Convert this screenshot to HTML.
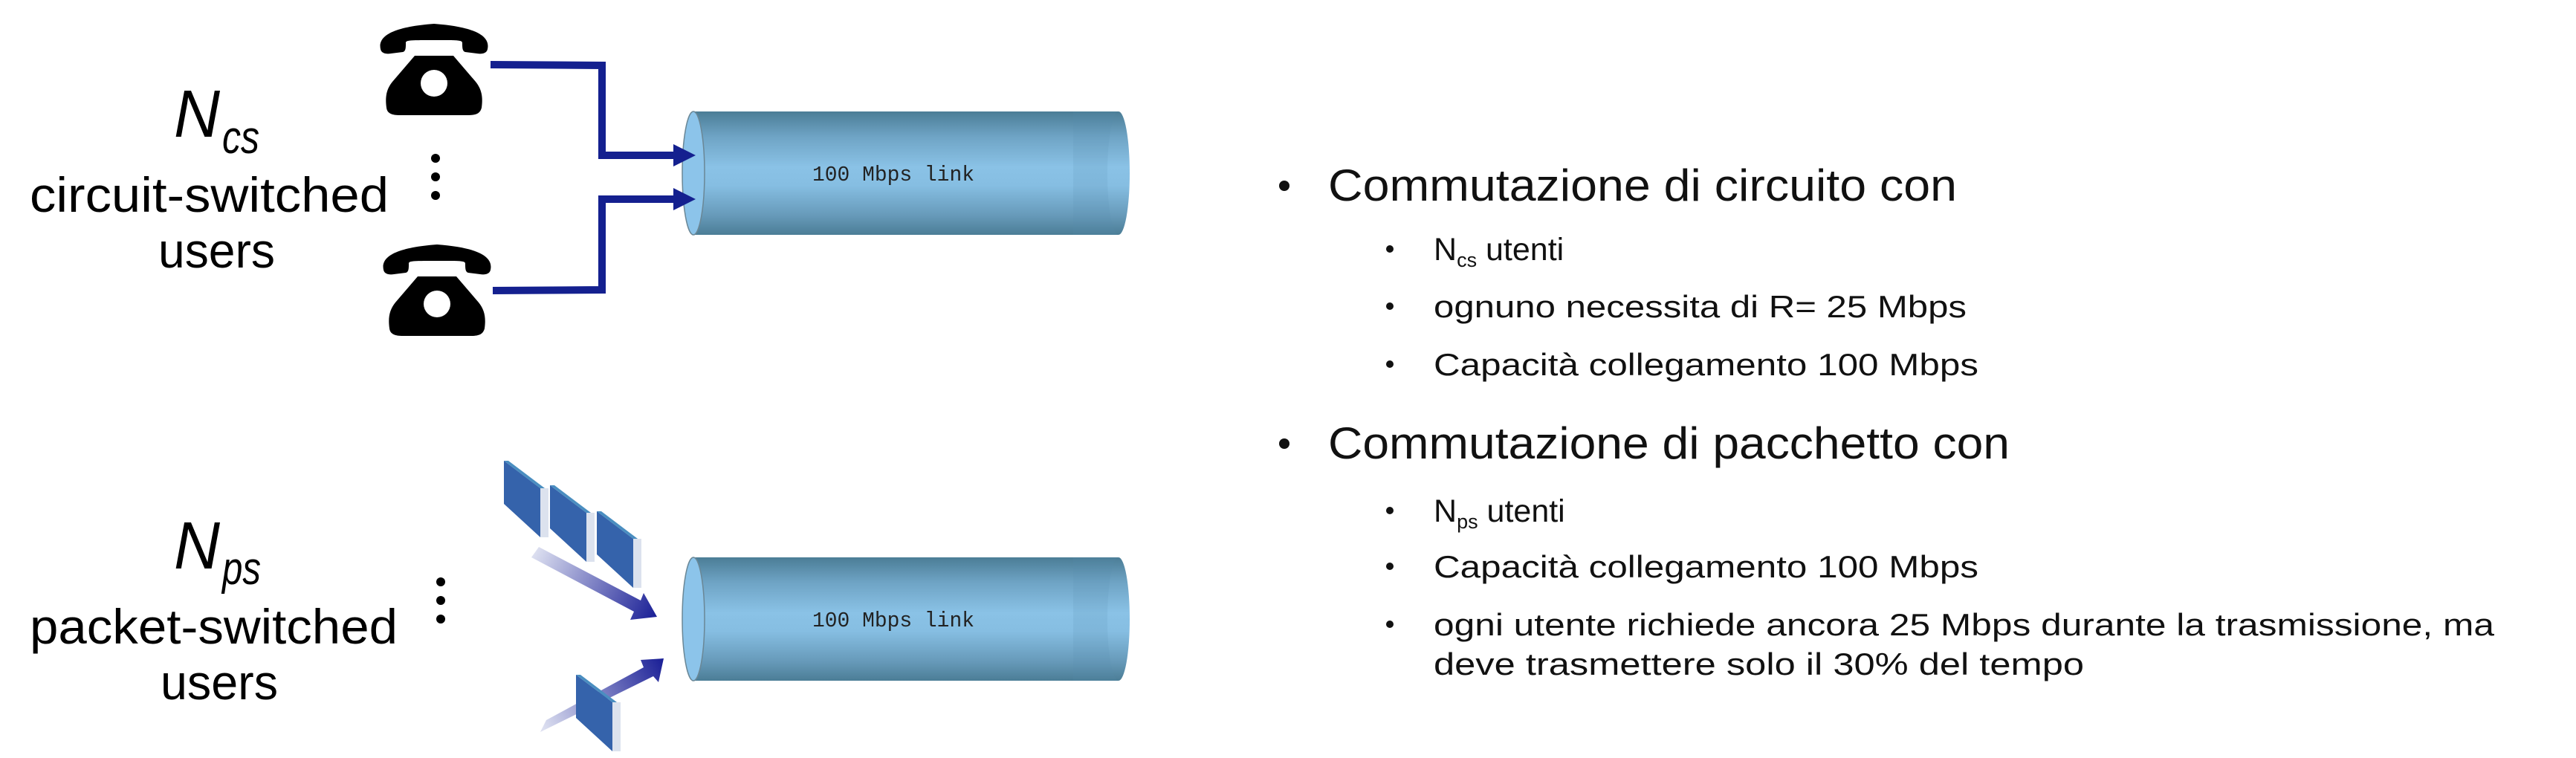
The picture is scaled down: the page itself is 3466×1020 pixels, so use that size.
<!DOCTYPE html>
<html><head><meta charset="utf-8"><style>html,body{margin:0;padding:0;background:#fff;width:3466px;height:1020px;overflow:hidden}</style></head>
<body>
<svg width="3466" height="1020" viewBox="0 0 3466 1020" xmlns="http://www.w3.org/2000/svg" font-family="Liberation Sans, sans-serif">
<defs>
<linearGradient id="cyl" x1="0" y1="0" x2="0" y2="1">
<stop offset="0" stop-color="#4b7d96"/><stop offset="0.2" stop-color="#6ea3c4"/><stop offset="0.45" stop-color="#8ac2e6"/><stop offset="0.6" stop-color="#86bee2"/><stop offset="0.85" stop-color="#6699b8"/><stop offset="1" stop-color="#4b7d96"/>
</linearGradient>
<linearGradient id="ag1" x1="720" y1="743" x2="883" y2="830" gradientUnits="userSpaceOnUse"><stop offset="0" stop-color="#dcdff0"/><stop offset="1" stop-color="#1a1f96"/></linearGradient>
<linearGradient id="ag2" x1="730" y1="977" x2="892" y2="887" gradientUnits="userSpaceOnUse"><stop offset="0" stop-color="#dcdff0"/><stop offset="1" stop-color="#1a1f96"/></linearGradient>
</defs>

<text x="234" y="184" font-size="90" font-style="italic" textLength="62" lengthAdjust="spacingAndGlyphs">N</text>
<text x="299" y="206" font-size="62" font-style="italic" textLength="50" lengthAdjust="spacingAndGlyphs">cs</text>
<text x="40" y="285" font-size="66" textLength="483" lengthAdjust="spacingAndGlyphs">circuit-switched</text>
<text x="213" y="360" font-size="66" textLength="157" lengthAdjust="spacingAndGlyphs">users</text>
<circle cx="586" cy="213" r="6"/><circle cx="586" cy="238" r="6"/><circle cx="586" cy="263" r="6"/>

<text x="234" y="765" font-size="90" font-style="italic" textLength="62" lengthAdjust="spacingAndGlyphs">N</text>
<text x="299" y="786" font-size="62" font-style="italic" textLength="52" lengthAdjust="spacingAndGlyphs">ps</text>
<text x="40" y="866" font-size="66" textLength="495" lengthAdjust="spacingAndGlyphs">packet-switched</text>
<text x="216" y="941" font-size="66" textLength="158" lengthAdjust="spacingAndGlyphs">users</text>
<circle cx="593" cy="783" r="6"/><circle cx="593" cy="808" r="6"/><circle cx="593" cy="833" r="6"/>

<g id="ph">
<path d="M512 66 C508 48 530 36 584 32 C638 36 660 48 656 66 C655 72 648 73 642 72 L626 70 C622 69 622 64 622 58 C622 54 618 54 584 54 C550 54 546 54 546 58 C546 64 546 69 542 70 L526 72 C520 73 513 72 512 66 Z" fill="#000"/>
<path d="M558 75 L610 75 L640 110 C648 120 650 130 648 145 C646 153 640 155 630 155 L538 155 C528 155 521 153 520 145 C518 130 520 120 528 110 Z" fill="#000"/>
<circle cx="584" cy="112" r="18" fill="#fff"/>
</g>
<use href="#ph" transform="translate(4,297)"/>

<g fill="none" stroke="#14208f" stroke-width="10">
<polyline points="660,87 810,88 810,209 912,209"/>
<polyline points="663,391 810,390 810,268 912,268"/>
</g>

<g id="cy">
<rect x="933" y="150" width="572" height="166" fill="url(#cyl)"/>
<rect x="1444" y="150" width="61" height="166" fill="#5a8fb0" opacity="0.15"/>
<ellipse cx="1505" cy="233" rx="15" ry="83" fill="url(#cyl)"/>
<ellipse cx="933" cy="233" rx="15" ry="83" fill="#8cc4ea" stroke="#6a8796" stroke-width="1.5"/>
<text x="1093" y="243" font-family="Liberation Mono, monospace" font-size="29" fill="#222" textLength="218" lengthAdjust="spacingAndGlyphs">100 Mbps link</text>
</g>
<use href="#cy" transform="translate(0,600)"/>
<polygon points="906,194 936,209 906,224" fill="#14208f"/>
<polygon points="906,253 936,268 906,283" fill="#14208f"/>

<g id="pk">
<polygon points="678,620 727,657 727,723 678,678" fill="#3563ab"/>
<polygon points="678,620 727,657 733,657 684,620" fill="#4a8ec0"/>
<rect x="727" y="657" width="11" height="66" fill="#dce2ee"/>
</g>
<use href="#pk" transform="translate(62,33)"/>
<use href="#pk" transform="translate(125,68)"/>
<polygon points="715,750 725,736 862,808 866,798 884,830 848,834 853,823" fill="url(#ag1)"/>
<polygon points="727,985 735,969 866,898 862,888 893,886 886,918 879,910" fill="url(#ag2)"/>
<use href="#pk" transform="translate(97,288)"/>

<g fill="#111">
<circle cx="1728" cy="250" r="7"/>
<text x="1787" y="270" font-size="60" textLength="846" lengthAdjust="spacingAndGlyphs">Commutazione di circuito con</text>
<circle cx="1870" cy="335" r="5"/>
<text x="1929" y="350" font-size="43">N<tspan font-size="27" dy="9">cs</tspan><tspan dy="-9" font-size="43"> utenti</tspan></text>
<circle cx="1870" cy="412" r="5"/>
<text x="1929" y="427" font-size="42" textLength="717" lengthAdjust="spacingAndGlyphs">ognuno necessita di R= 25 Mbps</text>
<circle cx="1870" cy="490" r="5"/>
<text x="1929" y="505" font-size="42" textLength="733" lengthAdjust="spacingAndGlyphs">Capacità collegamento 100 Mbps</text>
<circle cx="1728" cy="597" r="7"/>
<text x="1787" y="617" font-size="60" textLength="917" lengthAdjust="spacingAndGlyphs">Commutazione di pacchetto con</text>
<circle cx="1870" cy="687" r="5"/>
<text x="1929" y="702" font-size="43">N<tspan font-size="27" dy="9">ps</tspan><tspan dy="-9" font-size="43"> utenti</tspan></text>
<circle cx="1870" cy="762" r="5"/>
<text x="1929" y="777" font-size="42" textLength="733" lengthAdjust="spacingAndGlyphs">Capacità collegamento 100 Mbps</text>
<circle cx="1870" cy="840" r="5"/>
<text x="1929" y="855" font-size="42" textLength="1427" lengthAdjust="spacingAndGlyphs">ogni utente richiede ancora 25 Mbps durante la trasmissione, ma</text>
<text x="1929" y="908" font-size="42" textLength="875" lengthAdjust="spacingAndGlyphs">deve trasmettere solo il 30% del tempo</text>
</g>
</svg>
</body></html>
